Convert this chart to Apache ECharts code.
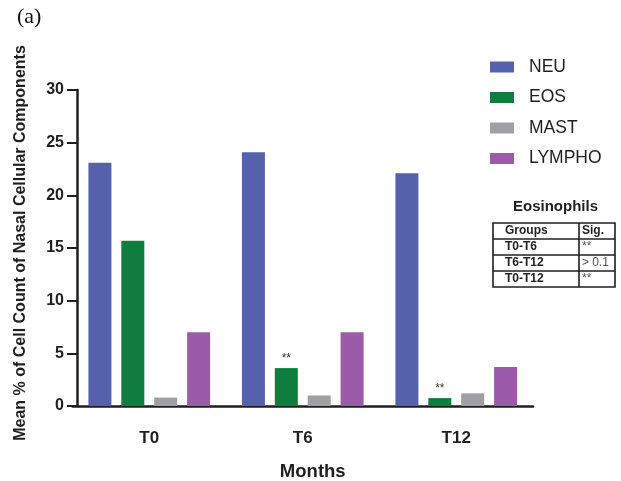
<!DOCTYPE html>
<html>
<head>
<meta charset="utf-8">
<script src="https://cdn.jsdelivr.net/npm/echarts@6/dist/echarts.min.js"></script>
<style>
  html, body { margin: 0; padding: 0; background: #fff; }
  #chart { width: 621px; height: 481px; }
</style>
</head>
<body>
<div id="chart"></div>
<script>
// Sampling time points (months)
const months = ['T0', 'T6', 'T12'];

// Mean % of cell count per cell type
const neu    = [23.1, 24.1, 22.1];
const eos    = [15.7, 3.6, 0.75];
const mast   = [0.8, 1.0, 1.2];
const lympho = [7.0, 7.0, 3.7];

// Significance marks drawn above the eosinophil bars
const eosMarks = ['', '**', '**'];

// Y axis tick values
const yTicks = [0, 5, 10, 15, 20, 25, 30];

// Eosinophil pairwise comparison table
const tableHeader = ['Groups', 'Sig.'];
const tableGroups = ['T0-T6', 'T6-T12', 'T0-T12'];
const tableSig    = ['**', '> 0.1', '**'];

const colors = {
  NEU: '#5661ab',
  EOS: '#0f7d3e',
  MAST: '#a0a0a4',
  LYMPHO: '#9b5ba8'
};

const sans = 'Arial, "Liberation Sans", Helvetica, sans-serif';
const ink = '#1f1f1f';

function barSeries(name, values, extra) {
  return Object.assign({
    name: name,
    type: 'bar',
    barWidth: 23,
    barGap: '43%',
    itemStyle: { color: colors[name] },
    data: values
  }, extra || {});
}

// Table geometry
const tX0 = 493, tX1 = 615, tXm = 579, tY0 = 223, tRow = 16;
const tableGraphics = [];
tableGraphics.push({
  type: 'text', left: 556 - 43, top: 199,
  style: { text: 'Eosinophils', font: 'bold 15px ' + sans, fill: ink }
});
const nRows = tableGroups.length + 1;
tableGraphics.push({
  type: 'rect',
  shape: { x: tX0, y: tY0, width: tX1 - tX0, height: tRow * nRows },
  style: { fill: 'none', stroke: ink, lineWidth: 1.6 }
});
for (let i = 1; i < nRows; i++) {
  tableGraphics.push({
    type: 'line',
    shape: { x1: tX0, y1: tY0 + tRow * i, x2: tX1, y2: tY0 + tRow * i },
    style: { stroke: ink, lineWidth: 1.6 }
  });
}
tableGraphics.push({
  type: 'line',
  shape: { x1: tXm, y1: tY0, x2: tXm, y2: tY0 + tRow * nRows },
  style: { stroke: ink, lineWidth: 1.6 }
});
tableGraphics.push({
  type: 'text', x: 505, y: tY0 + tRow / 2,
  style: { text: tableHeader[0], font: 'bold 12px ' + sans, fill: ink, verticalAlign: 'middle' }
});
tableGraphics.push({
  type: 'text', x: 582, y: tY0 + tRow / 2,
  style: { text: tableHeader[1], font: 'bold 12px ' + sans, fill: ink, verticalAlign: 'middle' }
});
tableGroups.forEach(function (g, i) {
  const cy = tY0 + tRow * (i + 1) + tRow / 2;
  tableGraphics.push({
    type: 'text', x: 505, y: cy,
    style: { text: g, font: 'bold 12px ' + sans, fill: ink, verticalAlign: 'middle' }
  });
  tableGraphics.push({
    type: 'text', x: 582, y: cy,
    style: { text: tableSig[i], font: '12px ' + sans, fill: '#555', verticalAlign: 'middle' }
  });
});

const chart = echarts.init(document.getElementById('chart'), null, { renderer: 'canvas' });

chart.setOption({
  animation: false,
  backgroundColor: '#fff',
  textStyle: { fontFamily: sans },
  grid: { left: 72.5, top: 90, width: 460.5, height: 316, containLabel: false, outerBoundsMode: 'none' },
  legend: {
    orient: 'vertical',
    left: 490,
    top: 58,
    padding: 0,
    icon: 'rect',
    itemWidth: 24,
    itemHeight: 11,
    itemGap: 12.5,
    selectedMode: false,
    textStyle: { fontSize: 17.5, color: ink, lineHeight: 18, padding: [0, 0, 0, 10], fontFamily: sans },
    data: ['NEU', 'EOS', 'MAST', 'LYMPHO']
  },
  xAxis: {
    type: 'category',
    data: months,
    boundaryGap: true,
    axisLine: { lineStyle: { color: ink, width: 2.5 } },
    axisTick: { alignWithLabel: true, length: 10, lineStyle: { color: ink, width: 2.5 } },
    axisLabel: { margin: 24, fontSize: 17, fontWeight: 'bold', color: ink },
    name: 'Months',
    nameLocation: 'middle',
    nameGap: 56,
    nameTextStyle: { fontSize: 18.5, fontWeight: 'bold', color: ink, padding: [0, 0, 0, 20] }
  },
  yAxis: {
    type: 'value',
    min: yTicks[0],
    max: yTicks[yTicks.length - 1],
    interval: yTicks[1] - yTicks[0],
    offset: -4.5,
    splitLine: { show: false },
    axisLine: { show: true, lineStyle: { color: ink, width: 2.5 } },
    axisTick: { show: true, length: 10, lineStyle: { color: ink, width: 2 } },
    axisLabel: { margin: 13, fontSize: 16, fontWeight: 'bold', color: ink },
    name: 'Mean % of Cell Count of Nasal Cellular Components',
    nameLocation: 'middle',
    nameGap: 48,
    nameTextStyle: { fontSize: 16, fontWeight: 'bold', color: ink, padding: [0, 0, 0, 10] }
  },
  series: [
    barSeries('NEU', neu),
    barSeries('EOS', eos.map(function (v, i) {
      return {
        value: v,
        label: {
          show: eosMarks[i] !== '',
          position: 'top',
          distance: 3,
          formatter: eosMarks[i],
          fontSize: 12,
          color: '#333'
        }
      };
    })),
    barSeries('MAST', mast),
    barSeries('LYMPHO', lympho)
  ],
  graphic: [
    {
      type: 'text', left: 17, top: 6,
      style: { text: '(a)', font: '22px "Liberation Serif", "Times New Roman", serif', fill: '#111' }
    }
  ].concat(tableGraphics)
});
</script>
</body>
</html>
